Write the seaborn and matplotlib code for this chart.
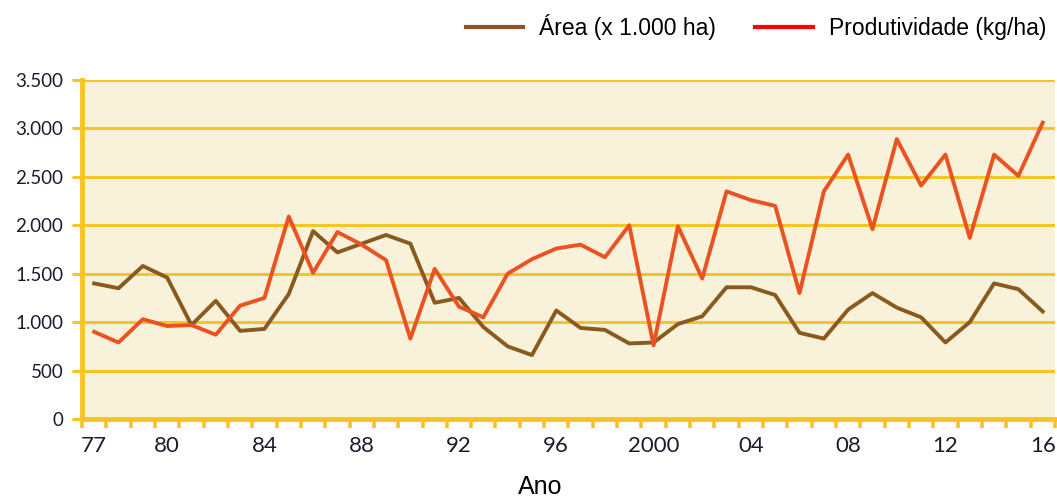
import numpy as np
import pandas as pd
import matplotlib
matplotlib.use("Agg")
import matplotlib.pyplot as plt
from matplotlib.lines import Line2D
import seaborn as sns

# anos 1977-2016
anos = list(range(1977, 2017))
area = [1400, 1350, 1580, 1460, 970, 1220, 910, 930, 1290, 1940,
        1720, 1810, 1900, 1810, 1200, 1250, 950, 750, 660, 1120,
        940, 920, 780, 790, 980, 1060, 1360, 1360, 1280, 890,
        830, 1130, 1300, 1150, 1050, 790, 1000, 1400, 1340, 1110]
produtividade = [900, 790, 1030, 960, 970, 870, 1170, 1250, 2090, 1510,
                 1930, 1800, 1640, 830, 1550, 1160, 1050, 1500, 1650, 1760,
                 1800, 1670, 2000, 760, 1990, 1450, 2350, 2260, 2200, 1300,
                 2350, 2730, 1960, 2890, 2410, 2730, 1870, 2730, 2510, 3060]
rotulos_x = ["77", "80", "84", "88", "92", "96", "2000", "04", "08", "12", "16"]
anos_rotulo = [1977, 1980, 1984, 1988, 1992, 1996, 2000, 2004, 2008, 2012, 2016]
y_ticks = [0, 500, 1000, 1500, 2000, 2500, 3000, 3500]

nome_area = "Área (x 1.000 ha)"
nome_prod = "Produtividade (kg/ha)"

df = pd.DataFrame({
    "pos": list(range(len(anos))) * 2,
    "valor": area + produtividade,
    "serie": [nome_area] * len(anos) + [nome_prod] * len(anos),
})

ouro = "#F7C325"
fundo = "#F9F2DA"
texto = "#1b1b2f"
cores = {nome_area: "#8A5A1C", nome_prod: "#EA5222"}

fig = plt.figure(figsize=(10.57, 5.0), dpi=100)
ax = fig.add_axes([0.0776, 0.162, 0.9204, 0.678])
ax.set_facecolor(fundo)

sns.lineplot(data=df, x="pos", y="valor", hue="serie", palette=cores,
             linewidth=2.8, legend=False, ax=ax, zorder=3)

ax.set_xlim(-0.5, len(anos) - 0.5)
ax.set_ylim(0, 3500)

# grade horizontal
ax.set_yticks(y_ticks)
ax.set_yticklabels([f"{v:,}".replace(",", ".") for v in y_ticks])
ax.yaxis.grid(True, color=ouro, linewidth=2.2, zorder=1)
ax.xaxis.grid(False)

# marcas entre categorias, rotulos no centro
ax.set_xticks(np.arange(-0.5, len(anos) + 0.5, 1.0))
ax.set_xticklabels([])
ax.set_xticks([anos.index(a) for a in anos_rotulo], minor=True)
ax.set_xticklabels(rotulos_x, minor=True)
ax.tick_params(axis="x", which="major", length=6.5, width=2.6, color=ouro)
ax.tick_params(axis="x", which="minor", length=0, pad=12,
               labelsize=16, labelcolor=texto)
ax.tick_params(axis="y", length=7, width=2.2, color=ouro, pad=6.5,
               labelsize=13.5, labelcolor=texto)
for lab in ax.get_xticklabels(minor=True) + ax.get_yticklabels():
    lab.set_family("Lato")

for lado in ["top", "right"]:
    ax.spines[lado].set_visible(False)
ax.spines["left"].set_color(ouro)
ax.spines["left"].set_linewidth(3.5)
ax.spines["bottom"].set_color(ouro)
ax.spines["bottom"].set_linewidth(3.5)

ax.set_xlabel("Ano", fontsize=18, family="Liberation Sans")
ax.xaxis.set_label_coords(0.4707, -0.165)
ax.set_ylabel("")

handles = [Line2D([], [], color="#8E5326", linewidth=3),
           Line2D([], [], color="#FF0000", linewidth=3)]
fig.legend(handles, [nome_area, nome_prod], loc="center right",
           bbox_to_anchor=(0.9896, 0.946), ncol=2, frameon=False,
           borderaxespad=0, borderpad=0,
           prop={"family": "Liberation Sans", "size": 16.5},
           handlelength=2.5, columnspacing=1.7, handletextpad=0.7)

fig.savefig("out.png", dpi=100, facecolor="white")
